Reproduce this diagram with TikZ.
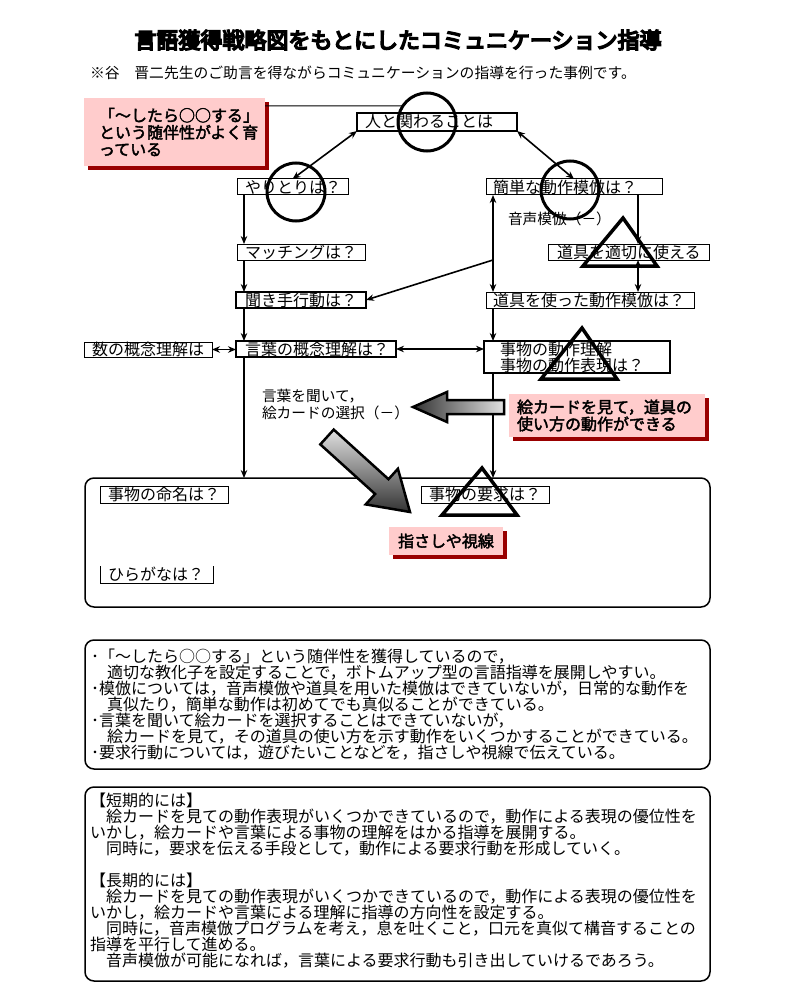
\documentclass[tikz,border=0pt]{standalone}
\usepackage{fontspec}
\setmainfont{Noto Sans CJK JP}
\newfontfamily\jpbf{Noto Sans CJK JP}[FakeBold=2.5]
\newfontfamily\jpblack{Noto Sans CJK JP}[FakeBold=7]
\usetikzlibrary{arrows.meta,shadows,calc}
\definecolor{pinkfill}{HTML}{FFCCCC}
\definecolor{shadowred}{HTML}{990000}
\newcommand\bodyfs{\fontsize{16}{16}\selectfont\lineskiplimit=-8pt\lineskip=0pt}
\newcommand\labfs{\fontsize{14.7}{17}\selectfont\lineskiplimit=-8pt\lineskip=0pt}
\newcommand\pinkfs{\jpbf\fontsize{16}{17}\selectfont\lineskiplimit=-8pt\lineskip=0pt}
\newcommand\titlefs{\jpblack\fontsize{22}{22}\selectfont}
\newcommand\subfs{\fontsize{14.8}{15}\selectfont}
\begin{document}
\begin{tikzpicture}[x=1pt,y=-1pt,
  every node/.style={font=\bodyfs, inner sep=0pt, outer sep=0pt},
  fbox/.style={draw, line width=1pt, fill=white, anchor=north west, align=left},
  thickbox/.style={fbox, line width=2pt},
  ln/.style={line width=1.6pt},
  conn/.style={ln, -{Stealth[length=8pt,width=6.5pt]}},
  dconn/.style={ln, {Stealth[length=8pt,width=6.5pt]}-{Stealth[length=8pt,width=6.5pt]}},
  ring/.style={circle, draw, line width=3pt, minimum size=58pt},
  tri/.style={line width=3.5pt, line join=miter},
  pinkbox/.style={fill=pinkfill, anchor=north west, align=left, font=\pinkfs,
    drop shadow={shadow xshift=4pt, shadow yshift=-4pt, fill=shadowred, opacity=1}},
  rbox/.style={draw, line width=1.5pt, rounded corners=9pt, anchor=north west},
  fat/.style={line width=2.5pt, line join=miter},
]
\fill[white] (0,0) rectangle (794,1000);
\useasboundingbox (0,0) rectangle (794,1000);

% title
\node[font=\titlefs] (title) at (398,40) {言語獲得戦略図をもとにしたコミュニケーション指導};
\node[anchor=west, font=\subfs] (sub) at (90,73) {※谷　晋二先生のご助言を得ながらコミュニケーションの指導を行った事例です。};

% big rounded frames
\node[rbox, minimum width=625pt, minimum height=129pt] (area) at (85,478) {};
\node[rbox, minimum width=625pt, minimum height=129pt] (sum) at (85,640) {};
\node[rbox, minimum width=625pt, minimum height=194pt] (plan) at (85,787) {};

% flow boxes
\node[thickbox, text width=160pt, minimum height=18pt] (hito) at (357,113) {\hspace*{8pt}人と関わることは};
\node[fbox, text width=111pt, minimum height=16pt] (yari) at (237,179) {\hspace*{8pt}やりとりは？};
\node[fbox, text width=128pt, minimum height=16pt] (match) at (237,244) {\hspace*{8pt}マッチングは？};
\node[thickbox, text width=130pt, minimum height=16pt] (kiki) at (236,292) {\hspace*{9pt}聞き手行動は？};
\node[thickbox, text width=160pt, minimum height=16pt] (kotoba) at (236,341) {\hspace*{9pt}言葉の概念理解は？};
\node[fbox, text width=128pt, minimum height=15pt] (kazu) at (84,342) {\hspace*{8pt}数の概念理解は};
\node[fbox, text width=176pt, minimum height=16pt] (kantan) at (486,179) {\hspace*{7pt}簡単な動作模倣は？};
\node[fbox, text width=161pt, minimum height=16pt] (tekisetsu) at (548,244) {\hspace*{9pt}道具を適切に使える};
\node[fbox, text width=208pt, minimum height=16pt] (dougu) at (486,292) {\hspace*{7pt}道具を使った動作模倣は？};
\node[thickbox, text width=186pt, minimum height=32pt] (jibutsu) at (484,341) {\hspace*{16pt}事物の動作理解\\ \hspace*{16pt}事物の動作表現は？};
\node[fbox, text width=128pt, minimum height=17pt] (meimei) at (100,486) {\hspace*{8pt}事物の命名は？};
\node[fbox, text width=128pt, minimum height=17pt] (youkyu) at (421,486) {\hspace*{8pt}事物の要求は？};
\node[anchor=north west, align=left, text width=113pt, minimum height=17pt] (hira) at (100,566) {\hspace*{8pt}ひらがなは？};
\draw[line width=1pt] (hira.north west) -- (hira.south west) -- (hira.south east) -- (hira.north east);

% plain labels
\node[anchor=west, font=\labfs] (onsei) at (508,219) {音声模倣（－）};
\node[anchor=north west, align=left, font=\labfs] (kikite) at (262,389) {言葉を聞いて，\\ 絵カードの選択（－）};

% pink boxes
\node[pinkbox, text width=181pt, minimum height=68pt] (pk1) at (84,98)
  {\hspace*{15pt}「～したら○○する」\\ \hspace*{15pt}という随伴性がよく育\\ \hspace*{15pt}っている};
\node[pinkbox, text width=196pt, minimum height=43pt] (pk2) at (509,394)
  {\hspace*{8pt}絵カードを見て，道具の\\ \hspace*{8pt}使い方の動作ができる};
\node[pinkbox, align=center, text width=114pt, minimum height=28pt] (pk3) at (389,527) {指さしや視線};

% columns
\coordinate (Lx) at (244,0);
\coordinate (Rx) at (493,0);
\coordinate (Tx) at (638,0);
\coordinate (dj) at (493,260);

% connectors
\draw[dconn] (hito.south west) -- (yari.north);
\draw[dconn] (hito.south east) -- (kantan.north);
\draw[conn] (yari.south -| Lx) -- (match.north -| Lx);
\draw[conn] (match.south -| Lx) -- (kiki.north -| Lx);
\draw[conn] (kiki.south -| Lx) -- (kotoba.north -| Lx);
\draw[conn] (kotoba.south -| Lx) -- (area.north -| Lx);
\draw[dconn] (kazu.east) -- (kotoba.west |- kazu.east);
\draw[dconn] (kotoba.east) -- (jibutsu.west |- kotoba.east);
\draw[dconn] (kantan.south -| Rx) -- (dougu.north -| Rx);
\draw[conn] (dj) -- (kiki.east);
\draw[conn] (dougu.south -| Rx) -- (jibutsu.north -| Rx);
\draw[conn] (jibutsu.south -| Rx) -- (area.north -| Rx);
\draw[conn] (kantan.south -| Tx) -- (tekisetsu.north -| Tx);
\draw[dconn] (tekisetsu.south -| Tx) -- (dougu.north -| Tx);

% circles and triangles
\node[ring] (c1) at (427,122) {};
\node[ring] (c2) at (296,192) {};
\node[ring] (c3) at (570,190) {};
\draw[line width=1pt] ($(pk1.north east)+(0,8)$) -- (c1.146.5);
\draw[tri] (623,218) -- (583,266) -- (657,266) -- cycle;
\draw[tri] (582,328) -- (541,379) -- (617,379) -- cycle;
\draw[tri] (482,468) -- (442,515) -- (517,515) -- cycle;

% fat arrows
\shadedraw[fat, left color=black!80, right color=black!12]
  (504,400) -- (447,400) -- (447,392) -- (413,407) -- (447,422) -- (447,414) -- (504,414) -- cycle;
\shadedraw[fat, top color=black!12, bottom color=black!80]
  (320.3,444.4) -- (375.1,494.0) -- (365.7,504.4) -- (410,512) -- (397.9,468.8) -- (388.5,479.2) -- (333.7,429.6) -- cycle;

% summary text
\node[anchor=north west, align=left] (sumtxt) at (91,649) {%
･「～したら○○する」という随伴性を獲得しているので，\\
\hspace*{16pt}適切な教化子を設定することで，ボトムアップ型の言語指導を展開しやすい。\\
･模倣については，音声模倣や道具を用いた模倣はできていないが，日常的な動作を\\
\hspace*{16pt}真似たり，簡単な動作は初めてでも真似ることができている。\\
･言葉を聞いて絵カードを選択することはできていないが，\\
\hspace*{16pt}絵カードを見て，その道具の使い方を示す動作をいくつかすることができている。\\
･要求行動については，遊びたいことなどを，指さしや視線で伝えている。};

\node[anchor=north west, align=left] (plantxt) at (90,793) {%
【短期的には】\\
　絵カードを見ての動作表現がいくつかできているので，動作による表現の優位性を\\
いかし，絵カードや言葉による事物の理解をはかる指導を展開する。\\
　同時に，要求を伝える手段として，動作による要求行動を形成していく。\\
\mbox{}\\
【長期的には】\\
　絵カードを見ての動作表現がいくつかできているので，動作による表現の優位性を\\
いかし，絵カードや言葉による理解に指導の方向性を設定する。\\
　同時に，音声模倣プログラムを考え，息を吐くこと，口元を真似て構音することの\\
指導を平行して進める。\\
　音声模倣が可能になれば，言葉による要求行動も引き出していけるであろう。};
\end{tikzpicture}
\end{document}
